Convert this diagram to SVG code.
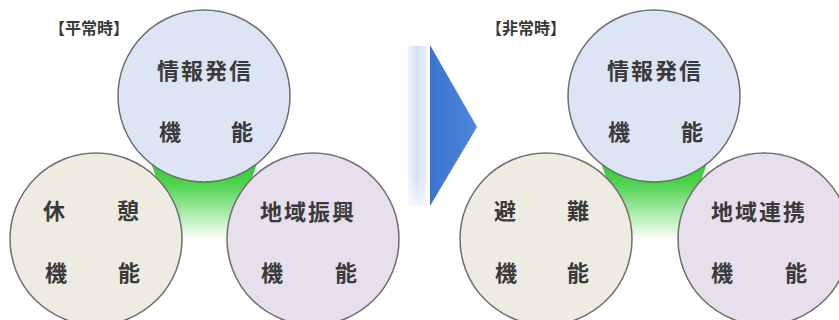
<svg xmlns="http://www.w3.org/2000/svg" width="839" height="320" viewBox="0 0 839 320">
<style>
.c{stroke:#6e6e6e;stroke-width:1.5}
.blue{fill:#dde5f4}
.beige{fill:#edebe2}
.lav{fill:#e7dfeb}
.t{font-family:"Noto Sans CJK JP","Noto Sans CJK SC",sans-serif;font-size:22px;font-weight:700;fill:#3a3a3a;text-anchor:middle}
.lbl{font-family:"Noto Sans CJK JP","Noto Sans CJK SC",sans-serif;font-size:16px;font-weight:700;fill:#3a3a3a}
</style>
<defs>
<linearGradient id="g" x1="0" y1="0" x2="0" y2="1">
<stop offset="0" stop-color="#2fc82f"/>
<stop offset="0.3" stop-color="#4fd44f"/>
<stop offset="1" stop-color="#ffffff"/>
</linearGradient>
<linearGradient id="ab" x1="0" y1="0" x2="1" y2="0">
<stop offset="0" stop-color="#3a72cf"/>
<stop offset="1" stop-color="#4f87dc"/>
</linearGradient>
<linearGradient id="lb" x1="0" y1="0" x2="1" y2="0">
<stop offset="0" stop-color="#eef3fb"/>
<stop offset="0.5" stop-color="#d4e0f3"/>
<stop offset="1" stop-color="#e6eef9"/>
</linearGradient>
<linearGradient id="lbv" x1="0" y1="0" x2="0" y2="1">
<stop offset="0" stop-color="#fff" stop-opacity="0"/>
<stop offset="0.8" stop-color="#fff" stop-opacity="0"/>
<stop offset="1" stop-color="#fff" stop-opacity="0.7"/>
</linearGradient>
</defs>
<rect width="839" height="320" fill="#ffffff"/>
<g id="connectors">
<path d="M150 160 L258 160 L232 240 L178 240 Z" fill="url(#g)"/>
<path d="M600 160 L708 160 L682 240 L628 240 Z" fill="url(#g)"/>
</g>
<g id="arrow">
<rect x="408" y="46" width="19" height="160" fill="url(#lb)"/>
<rect x="408" y="46" width="19" height="160" fill="url(#lbv)"/>
<polygon points="430,45 477,127 430,206" fill="url(#ab)"/>
</g>
<g id="label-normal"><text class="lbl" x="49" y="34">【平常時】</text></g>
<g id="label-emergency"><text class="lbl" x="486" y="34">【非常時】</text></g>
<g id="n-info-1">
<circle class="c blue" cx="204" cy="96" r="86"/>
<text class="t" x="205" y="79" letter-spacing="2">情報発信</text>
<text class="t" x="170" y="140">機</text><text class="t" x="242" y="140">能</text>
</g>
<g id="n-rest">
<circle class="c beige" cx="96" cy="239" r="86"/>
<text class="t" x="54" y="219">休</text><text class="t" x="128" y="219">憩</text>
<text class="t" x="56" y="281">機</text><text class="t" x="129" y="281">能</text>
</g>
<g id="n-regional">
<circle class="c lav" cx="313" cy="239" r="86"/>
<text class="t" x="308" y="220" letter-spacing="2">地域振興</text>
<text class="t" x="272" y="281">機</text><text class="t" x="346" y="281">能</text>
</g>
<g id="n-info-2">
<circle class="c blue" cx="654" cy="96" r="86"/>
<text class="t" x="655" y="79" letter-spacing="2">情報発信</text>
<text class="t" x="619" y="140">機</text><text class="t" x="692" y="140">能</text>
</g>
<g id="n-evac">
<circle class="c beige" cx="546" cy="239" r="86"/>
<text class="t" x="505" y="219">避</text><text class="t" x="578" y="219">難</text>
<text class="t" x="506" y="281">機</text><text class="t" x="578" y="281">能</text>
</g>
<g id="n-coop">
<circle class="c lav" cx="764" cy="239" r="86"/>
<text class="t" x="759" y="220" letter-spacing="2">地域連携</text>
<text class="t" x="722" y="281">機</text><text class="t" x="796" y="281">能</text>
</g>
</svg>
